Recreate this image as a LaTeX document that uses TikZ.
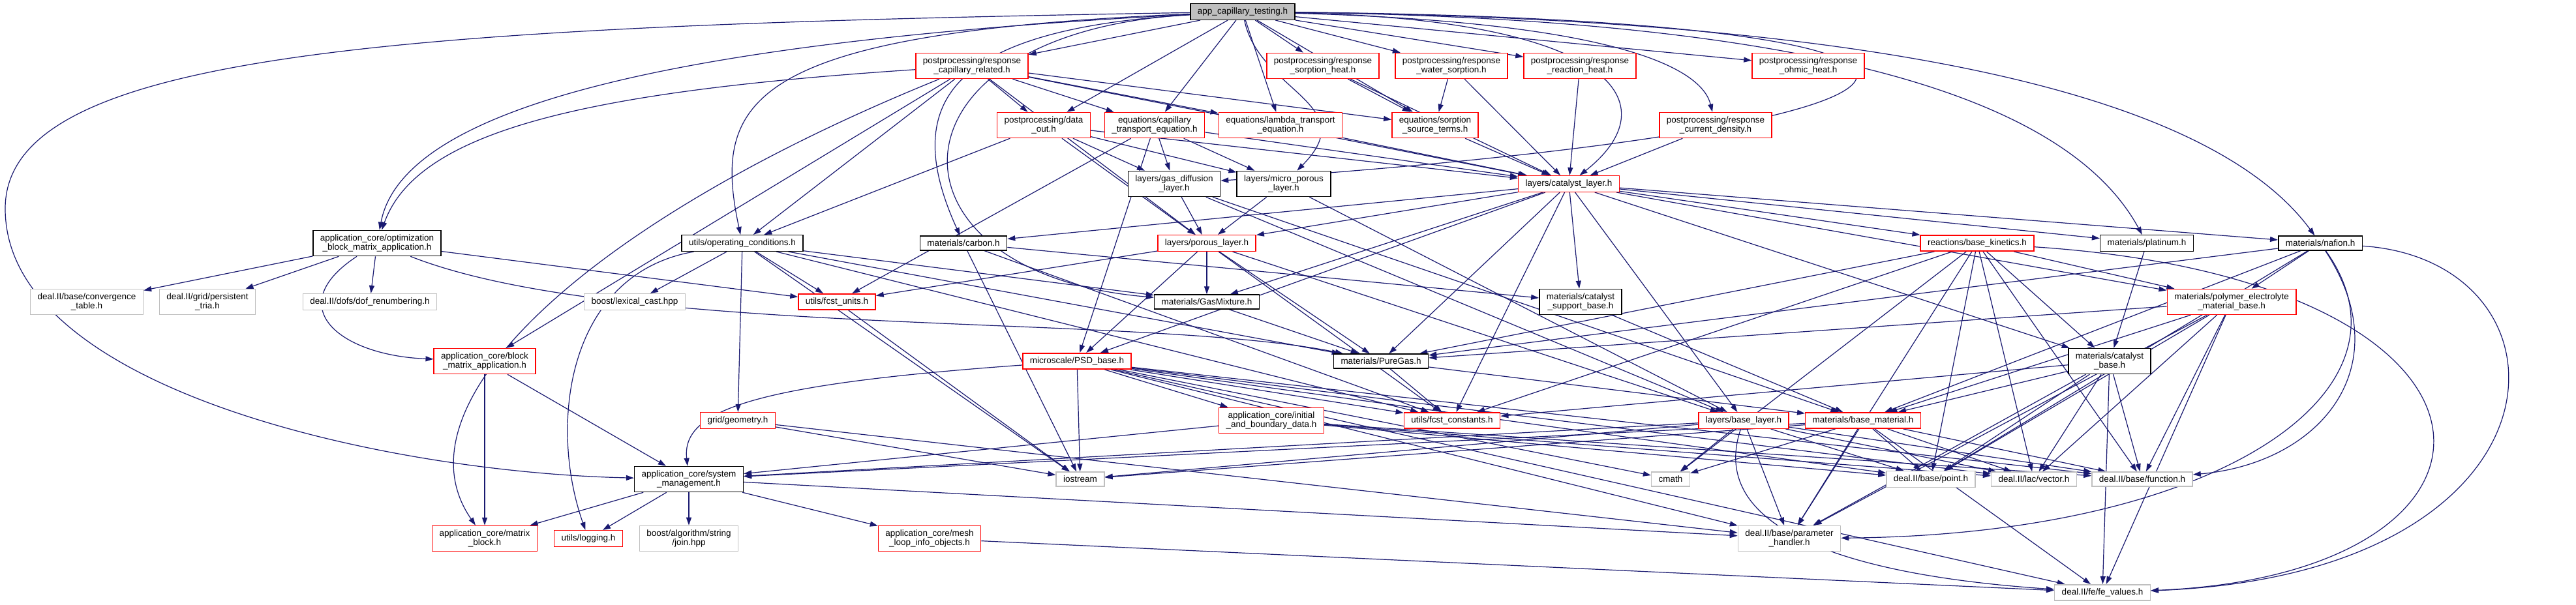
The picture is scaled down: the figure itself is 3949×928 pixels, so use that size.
\documentclass[tikz,border=0pt]{standalone}
\usepackage{fontspec}
\setmainfont{Liberation Sans}
\usetikzlibrary{arrows.meta,backgrounds}
\definecolor{bleunuit}{RGB}{25,25,112}
\definecolor{grisclair}{RGB}{191,191,191}
\begin{document}
\begin{tikzpicture}[x=1pt,y=-1pt]
\tikzstyle{boite} = [draw, fill=white, line width=1.5pt, align=center, inner xsep=11pt, inner ysep=6pt, font=\fontsize{13.5}{14.5}\selectfont] %boite de base
\tikzstyle{rouge} = [boite, draw=red] %graphe tronque
\tikzstyle{noir} = [boite, draw=black]
\tikzstyle{gris} = [boite, draw=grisclair] %fichier externe
\tikzstyle{racine} = [boite, draw=black, fill=grisclair]
\tikzstyle{lien} = [bleunuit, line width=1.2pt, -{Triangle[length=12pt,width=8pt]}]

\useasboundingbox (0,0) rectangle (3949,928);

%fichier de depart
\node[racine] (app) at (1905,18) {app\_capillary\_testing.h};

%rang 1
\node[rouge] (rc) at (1490,101) {postprocessing/response\\\_capillary\_related.h};
\node[rouge] (rsh) at (2028,101) {postprocessing/response\\\_sorption\_heat.h};
\node[rouge] (rws) at (2225,101) {postprocessing/response\\\_water\_sorption.h};
\node[rouge] (rrh) at (2422,101) {postprocessing/response\\\_reaction\_heat.h};
\node[rouge] (roh) at (2772,101) {postprocessing/response\\\_ohmic\_heat.h};

%rang 2
\node[rouge] (dout) at (1600,192) {postprocessing/data\\\_out.h};
\node[rouge] (cte) at (1770,192) {equations/capillary\\\_transport\_equation.h};
\node[rouge] (lte) at (1963,192) {equations/lambda\_transport\\\_equation.h};
\node[rouge] (sst) at (2200,192) {equations/sorption\\\_source\_terms.h};
\node[rouge] (rcd) at (2630,192) {postprocessing/response\\\_current\_density.h};

%rang 3
\node[noir] (gdl) at (1800,282) {layers/gas\_diffusion\\\_layer.h};
\node[noir] (mpl) at (1968,282) {layers/micro\_porous\\\_layer.h};
\node[rouge] (cl) at (2405,282) {layers/catalyst\_layer.h};

%rang 4
\node[noir] (opt) at (578,373) {application\_core/optimization\\\_block\_matrix\_application.h};
\node[noir] (opc) at (1138,373) {utils/operating\_conditions.h};
\node[noir] (carb) at (1477,373) {materials/carbon.h};
\node[rouge] (pl) at (1850,373) {layers/porous\_layer.h};
\node[rouge] (bk) at (3031,373) {reactions/base\_kinetics.h};
\node[noir] (pt) at (3291,373) {materials/platinum.h};
\node[noir] (naf) at (3557,373) {materials/nafion.h};

%rang 5
\node[gris] (conv) at (133,463) {deal.II/base/convergence\\\_table.h};
\node[gris] (ptria) at (318,463) {deal.II/grid/persistent\\\_tria.h};
\node[gris] (dofr) at (567,463) {deal.II/dofs/dof\_renumbering.h};
\node[gris] (lcast) at (973,463) {boost/lexical\_cast.hpp};
\node[rouge] (units) at (1283,463) {utils/fcst\_units.h};
\node[noir] (gmix) at (1850,463) {materials/GasMixture.h};
\node[noir] (csb) at (2423,463) {materials/catalyst\\\_support\_base.h};
\node[rouge] (peb) at (3421,463) {materials/polymer\_electrolyte\\\_material\_base.h};

%rang 6
\node[rouge] (bma) at (743,554) {application\_core/block\\\_matrix\_application.h};
\node[rouge] (psd) at (1651,554) {microscale/PSD\_base.h};
\node[noir] (pgas) at (2117,554) {materials/PureGas.h};
\node[noir] (cb) at (3234,554) {materials/catalyst\\\_base.h};

%rang 7
\node[rouge] (geo) at (1131,645) {grid/geometry.h};
\node[rouge] (ibd) at (1949,645) {application\_core/initial\\\_and\_boundary\_data.h};
\node[rouge] (cst) at (2226,645) {utils/fcst\_constants.h};
\node[rouge] (bl) at (2673,645) {layers/base\_layer.h};
\node[rouge] (bmat) at (2856,645) {materials/base\_material.h};

%rang 8
\node[noir] (sm) at (1056,735) {application\_core/system\\\_management.h};
\node[gris] (ios) at (1656,735) {iostream};
\node[gris] (cmath) at (2561,735) {cmath};
\node[gris] (point) at (2960,735) {deal.II/base/point.h};
\node[gris] (vec) at (3118,735) {deal.II/lac/vector.h};
\node[gris] (func) at (3284,735) {deal.II/base/function.h};

%rang 9
\node[rouge] (mblk) at (743,826) {application\_core/matrix\\\_block.h};
\node[rouge] (log) at (902,826) {utils/logging.h};
\node[gris] (join) at (1056,826) {boost/algorithm/string\\/join.hpp};
\node[rouge] (mesh) at (1425,826) {application\_core/mesh\\\_loop\_info\_objects.h};
\node[gris] (ph) at (2743,826) {deal.II/base/parameter\\\_handler.h};
\node[gris] (fev) at (3223,909) {deal.II/fe/fe\_values.h};

\begin{pgfonlayer}{background}
\fill[white] (0,0) rectangle (3949,928);

%liens de app
\foreach \cible in {rc,rsh,rws,rrh,roh,dout,cte,lte,sst} \draw[lien] (app) -- (\cible);
\draw[lien] (app) .. controls (2500,35) and (2610,110) .. (rcd);
\draw[lien] (app) .. controls (2480,30) and (2560,160) .. (cl);
\draw[lien] (app) .. controls (1930,140) and (2090,160) .. (mpl);
\draw[lien] (app) .. controls (3150,30) and (3150,190) .. (gdl);
\draw[lien] (app) .. controls (1100,60) and (620,150) .. (opt);
\draw[lien] (app) .. controls (1150,50) and (1090,150) .. (opc);
\draw[lien] (app) .. controls (1450,45) and (1380,160) .. (carb);
\draw[lien] (app) .. controls (1340,50) and (1340,420) .. (gmix);
\draw[lien] (app) .. controls (2850,30) and (3180,170) .. (pt);
\draw[lien] (app) .. controls (2950,30) and (3400,160) .. (naf);
\draw[lien] (app) .. controls (600,40) and (8,80) .. (8,320) .. controls (8,600) and (600,725) .. (sm);

%postprocessing et equations
\foreach \cible in {bma,opc,dout,cte,lte,sst,cl,pl} \draw[lien] (rc) -- (\cible);
\draw[lien] (rc) .. controls (900,140) and (640,200) .. (opt);
\draw[lien] (rc) .. controls (900,340) and (600,620) .. (mblk);
\foreach \cible in {sst,cl} \draw[lien] (rsh) -- (\cible);
\foreach \cible in {sst,cl} \draw[lien] (rws) -- (\cible);
\draw[lien] (rrh) -- (cl);
\draw[lien] (rcd) -- (cl);
\foreach \cible in {gdl,mpl,pl,opc,cl} \draw[lien] (dout) -- (\cible);
\foreach \cible in {gdl,mpl,cl,psd,units} \draw[lien] (cte) -- (\cible);
\draw[lien] (lte) -- (cl);
\draw[lien] (sst) -- (cl);

%couches
\foreach \cible in {pl,bl,bmat} \draw[lien] (gdl) -- (\cible);
\foreach \cible in {pl,bl} \draw[lien] (mpl) -- (\cible);
\foreach \cible in {pl,carb,gmix,psd,cst,csb,pgas,bl,bk,pt,naf,peb,cb} \draw[lien] (cl) -- (\cible);
\foreach \cible in {units,psd,gmix,pgas,bl,cst} \draw[lien] (pl) -- (\cible);

%application_core et utils
\foreach \cible in {conv,ptria,dofr,units} \draw[lien] (opt) -- (\cible);
\draw[lien] (opt) .. controls (430,470) and (520,545) .. (bma);
\draw[lien] (opt) .. controls (950,520) and (1750,480) .. (pgas);
\foreach \cible in {lcast,geo,units,gmix,pgas,cst,ios} \draw[lien] (opc) -- (\cible);
\draw[lien] (opc) .. controls (870,420) and (840,650) .. (log);
\foreach \cible in {sm,mblk} \draw[lien] (bma) -- (\cible);
\draw[lien] (units) -- (ios);
\foreach \cible in {ios,ph} \draw[lien] (geo) -- (\cible);
\foreach \cible in {sm,point,vec,func} \draw[lien] (ibd) -- (\cible);
\draw[lien] (mesh) -- (fev);
\foreach \cible in {mblk,log,join,mesh,ph} \draw[lien] (sm) -- (\cible);
\foreach \cible in {ios,ibd,cst,cmath,point,vec,func,ph,fev} \draw[lien] (psd) -- (\cible);
\draw[lien] (psd) .. controls (1150,590) and (1045,630) .. (sm);

%materiaux et cinetique
\foreach \cible in {csb,ios,cst} \draw[lien] (carb) -- (\cible);
\draw[lien] (gmix) -- (pgas);
\foreach \cible in {cst,bmat} \draw[lien] (pgas) -- (\cible);
\draw[lien] (csb) -- (bmat);
\foreach \cible in {pgas,cb,peb,cst,cmath,point,vec,func,ph} \draw[lien] (bk) -- (\cible);
\draw[lien] (bk) .. controls (3900,430) and (3900,880) .. (fev);
\draw[lien] (pt) -- (cb);
\foreach \cible in {pgas,peb,point,bmat} \draw[lien] (naf) -- (\cible);
\draw[lien] (naf) .. controls (3960,400) and (3960,880) .. (fev);
\draw[lien] (naf) .. controls (3680,560) and (3560,710) .. (func);
\draw[lien] (naf) .. controls (3720,600) and (3400,820) .. (ph);
\foreach \cible in {pgas,bmat,point,vec,func,ph,fev} \draw[lien] (peb) -- (\cible);
\foreach \cible in {cst,bmat,point,vec,func,ph,fev} \draw[lien] (cb) -- (\cible);
\foreach \cible in {sm,ios,cmath,point,vec,func,ph} \draw[lien] (bl) -- (\cible);
\draw[lien] (bl) .. controls (2620,800) and (2800,880) .. (fev);
\foreach \cible in {sm,ios,cmath,point,vec,func,ph,fev} \draw[lien] (bmat) -- (\cible);
\end{pgfonlayer}
\end{tikzpicture}
\end{document}
